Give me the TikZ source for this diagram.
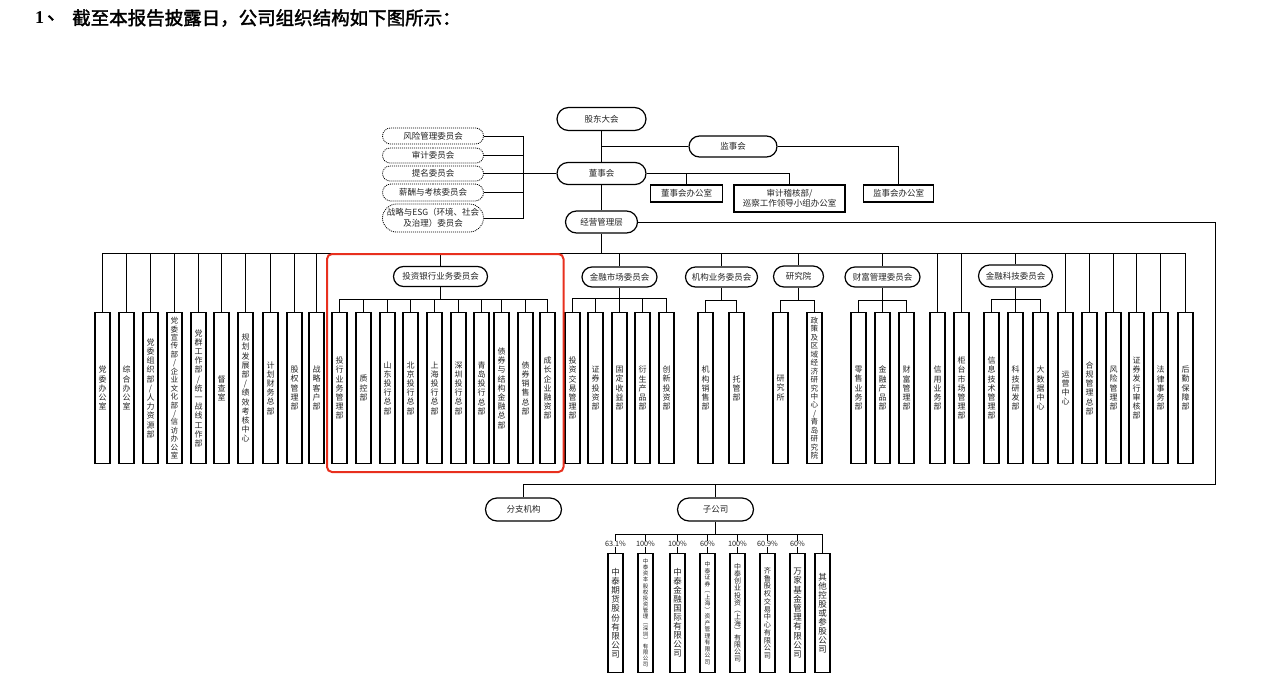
\documentclass[tikz,border=0pt]{standalone}
\usepackage{fontspec}
\usetikzlibrary{shapes.misc}
\newfontfamily\cjk{Noto Sans CJK SC}
\newfontfamily\cjkb[FakeBold=2]{Noto Sans CJK SC}
\newfontfamily\tnr{Liberation Serif}
\definecolor{redbox}{RGB}{232,48,30}
\definecolor{ink}{RGB}{35,35,35}
\ExplSyntaxOn
\seq_new:N \l_vt_chars_seq
\NewDocumentCommand \vt { m }
  {
    \seq_clear:N \l_vt_chars_seq
    \tl_map_inline:nn { #1 } { \seq_put_right:Nn \l_vt_chars_seq { ##1 } }
    \seq_use:Nn \l_vt_chars_seq { \\ }
  }
\ExplSyntaxOff
% name, x, bus coordinate, text
\newcommand\dept[5][]{\node[vbox,#1] (#2) at (#3,312) {\vt{#5}};
  \draw[conn] (#2.north) -- (#2.north |- #4);}
% name, x, pct, fontsize, skip, text
\newcommand\subco[6]{\node[sbox,font=\cjk\fontsize{#4}{#5}\selectfont] (#1) at (#2,553) {\vt{#6}};
  \draw[conn] (#1.north) -- (#1.north |- sbL);
  \node[pct] (#1p) at (#2,544) {#3};}
\begin{document}
\begin{tikzpicture}[x=1pt,y=-1pt,
  conn/.style={draw=black, line width=1pt},
  vbox/.style={draw=black, line width=1.3pt, minimum width=15pt, minimum height=151pt,
    inner sep=0pt, anchor=north, align=center, font=\cjk\fontsize{8}{9.2}\selectfont, text=ink},
  sbox/.style={vbox, minimum height=119pt},
  pill/.style={rounded rectangle, draw=black, line width=1.2pt, inner sep=0pt,
    minimum height=20pt, font=\cjk\fontsize{8.5}{10}\selectfont, text=ink},
  dpill/.style={pill, line width=0.8pt, dash pattern=on 1pt off 1pt, minimum width=101pt},
  obox/.style={draw=black, line width=1.2pt, inner sep=0pt, align=center,
    font=\cjk\fontsize{8.5}{10.5}\selectfont, text=ink},
  pct/.style={fill=white, inner sep=0.6pt, font=\cjk\fontsize{7.3}{8}\selectfont, text=ink},
  tight/.style={font=\cjk\fontsize{7.6}{8.45}\selectfont}
]
\useasboundingbox (0,0) rectangle (1280,675);

% title
\node[anchor=west, inner sep=0pt, font=\tnr\bfseries\fontsize{18}{20}\selectfont] (tnum) at (35,18) {1};
\node[anchor=west, inner sep=0pt, font=\cjkb\fontsize{18.5}{20}\selectfont] (tdot) at (47,18) {、};
\node[anchor=west, inner sep=0pt, font=\cjkb\fontsize{18.5}{20}\selectfont] (title) at (72,18) {截至本报告披露日，公司组织结构如下图所示：};

% top governance
\node[pill, minimum width=89pt, minimum height=23pt] (gd) at (601.5,119) {股东大会};
\node[pill, minimum width=88pt, minimum height=21pt] (js) at (733,146.5) {监事会};
\node[pill, minimum width=89pt, minimum height=22pt] (dsh) at (601.5,173.5) {董事会};
\node[pill, minimum width=72pt, minimum height=22pt] (jy) at (601.5,222) {经营管理层};
\node[obox, minimum width=72pt, minimum height=17pt] (dsbgs) at (686.5,193.5) {董事会办公室};
\node[obox, minimum width=111pt, minimum height=27pt] (sj) at (789.5,198.5) {审计稽核部/\\巡察工作领导小组办公室};
\node[obox, minimum width=70pt, minimum height=17pt] (jsbgs) at (898.5,193.5) {监事会办公室};

\draw[conn] (gd.south) -- (dsh.north);
\draw[conn] (js.west) -- (js.west -| gd.south);
\draw[conn] (js.east) -| (jsbgs.north);
\draw[conn] (dsh.east) -| (sj.north);
\draw[conn] (dsbgs.north) -- (dsbgs.north |- dsh.east);
\draw[conn] (dsh.south) -- (jy.north);

% board committees
\node[dpill, minimum height=16pt] (c1) at (433,136) {风险管理委员会};
\node[dpill, minimum height=15pt] (c2) at (433,155.5) {审计委员会};
\node[dpill, minimum height=15pt] (c3) at (433,173.5) {提名委员会};
\node[dpill, minimum height=17pt] (c4) at (433,192.5) {薪酬与考核委员会};
\node[dpill, minimum height=28pt, align=center, font=\cjk\fontsize{8.5}{10.5}\selectfont] (c5) at (433,218) {战略与ESG（环境、社会\\及治理）委员会};
\coordinate (cbT) at (523.5,136);
\coordinate (cbB) at (523.5,218);
\draw[conn] (cbT) -- (cbB);
\draw[conn] (c1.east) -- (c1.east -| cbT);
\draw[conn] (c2.east) -- (c2.east -| cbT);
\draw[conn] (c3.east) -- (dsh.west);
\draw[conn] (c4.east) -- (c4.east -| cbT);
\draw[conn] (c5.east) -- (c5.east -| cbT);

% main bus
\coordinate (mbL) at (102.5,253);
\coordinate (mbR) at (1185.5,253);
\draw[conn] (mbL) -- (mbR);
\draw[conn] (jy.south) -- (jy.south |- mbL);

% left departments
\dept{L1}{102.5}{mbL}{党委办公室}
\dept{L2}{126.5}{mbL}{综合办公室}
\dept{L3}{150.5}{mbL}{党委组织部/人力资源部}
\dept[tight]{L4}{174.5}{mbL}{党委宣传部/企业文化部/信访办公室}
\dept{L5}{198.5}{mbL}{党群工作部/统一战线工作部}
\dept{L6}{221.5}{mbL}{督查室}
\dept{L7}{245.5}{mbL}{规划发展部/绩效考核中心}
\dept{L8}{270.5}{mbL}{计划财务总部}
\dept{L9}{294.5}{mbL}{股权管理部}
\dept{L10}{316.5}{mbL}{战略客户部}

% investment banking committee
\node[pill, minimum width=94pt] (tyh) at (440.5,276.5) {投资银行业务委员会};
\draw[conn] (tyh.north) -- (tyh.north |- mbL);
\coordinate (tbL) at (339.5,299);
\coordinate (tbR) at (547.5,299);
\draw[conn] (tbL) -- (tbR);
\draw[conn] (tyh.south) -- (tyh.south |- tbL);
\dept{T1}{339.5}{tbL}{投行业务管理部}
\dept{T2}{363.5}{tbL}{质控部}
\dept{T3}{387.5}{tbL}{山东投行总部}
\dept{T4}{410.5}{tbL}{北京投行总部}
\dept{T5}{434.5}{tbL}{上海投行总部}
\dept{T6}{458.5}{tbL}{深圳投行总部}
\dept{T7}{481.5}{tbL}{青岛投行总部}
\dept{T8}{501.5}{tbL}{债券与结构金融总部}
\dept{T9}{525.5}{tbL}{债券销售总部}
\dept{T10}{547.5}{tbL}{成长企业融资部}

% financial markets committee
\node[pill, minimum width=75pt] (jr) at (619.5,277) {金融市场委员会};
\draw[conn] (jr.north) -- (jr.north |- mbL);
\coordinate (jbL) at (572.5,298);
\coordinate (jbR) at (666.5,298);
\draw[conn] (jbL) -- (jbR);
\draw[conn] (jr.south) -- (jr.south |- jbL);
\dept{J1}{572.5}{jbL}{投资交易管理部}
\dept{J2}{595.5}{jbL}{证券投资部}
\dept{J3}{619.5}{jbL}{固定收益部}
\dept{J4}{642.5}{jbL}{衍生产品部}
\dept{J5}{666.5}{jbL}{创新投资部}

% institutional business committee
\node[pill, minimum width=72pt] (jg) at (721.5,277) {机构业务委员会};
\draw[conn] (jg.north) -- (jg.north |- mbL);
\coordinate (gbL) at (705.5,300);
\coordinate (gbR) at (736.5,300);
\draw[conn] (gbL) -- (gbR);
\draw[conn] (jg.south) -- (jg.south |- gbL);
\dept{G1}{705.5}{gbL}{机构销售部}
\dept{G2}{736.5}{gbL}{托管部}

% research institute
\node[pill, minimum width=50pt, minimum height=21pt] (yjy) at (798.5,276.5) {研究院};
\draw[conn] (yjy.north) -- (yjy.north |- mbL);
\coordinate (ybL) at (780.5,300);
\coordinate (ybR) at (814.5,300);
\draw[conn] (ybL) -- (ybR);
\draw[conn] (yjy.south) -- (yjy.south |- ybL);
\dept{Y1}{780.5}{ybL}{研究所}
\dept[tight]{Y2}{814.5}{ybL}{政策及区域经济研究中心/青岛研究院}

% wealth management committee
\node[pill, minimum width=75pt] (cf) at (882.5,277) {财富管理委员会};
\draw[conn] (cf.north) -- (cf.north |- mbL);
\coordinate (fbL) at (858.5,300);
\coordinate (fbR) at (906.5,300);
\draw[conn] (fbL) -- (fbR);
\draw[conn] (cf.south) -- (cf.south |- fbL);
\dept{F1}{858.5}{fbL}{零售业务部}
\dept{F2}{882.5}{fbL}{金融产品部}
\dept{F3}{906.5}{fbL}{财富管理部}

\dept{R1}{937.5}{mbL}{信用业务部}
\dept{R2}{961.5}{mbL}{柜台市场管理部}

% fintech committee
\node[pill, minimum width=74pt, minimum height=22pt] (kj) at (1015.5,276) {金融科技委员会};
\draw[conn] (kj.north) -- (kj.north |- mbL);
\coordinate (kbL) at (991.5,299);
\coordinate (kbR) at (1040.5,299);
\draw[conn] (kbL) -- (kbR);
\draw[conn] (kj.south) -- (kj.south |- kbL);
\dept{K1}{991.5}{kbL}{信息技术管理部}
\dept{K2}{1015.5}{kbL}{科技研发部}
\dept{K3}{1040.5}{kbL}{大数据中心}

\dept{R3}{1065.5}{mbL}{运营中心}
\dept{R4}{1089.5}{mbL}{合规管理总部}
\dept{R5}{1113.5}{mbL}{风险管理部}
\dept{R6}{1136.5}{mbL}{证券发行审核部}
\dept{R7}{1160.5}{mbL}{法律事务部}
\dept{R8}{1185.5}{mbL}{后勤保障部}

% branches and subsidiaries
\node[pill, minimum width=76pt, minimum height=23pt] (fz) at (523.5,509.5) {分支机构};
\node[pill, minimum width=76pt, minimum height=23pt] (zgs) at (715.5,509.5) {子公司};
\coordinate (rt) at (1215.5,222);
\coordinate (rb) at (1215.5,484);
\draw[conn] (jy.east) -- (rt) -- (rb) -- (rb -| fz.north) -- (fz.north);
\draw[conn] (zgs.north) -- (zgs.north |- rb);

\coordinate (sbL) at (615.5,534);
\coordinate (sbR) at (822.5,534);
\draw[conn] (sbL) -- (sbR);
\draw[conn] (zgs.south) -- (zgs.south |- sbL);
\subco{S1}{615.5}{63.1\%}{8.5}{9.2}{中泰期货股份有限公司}
\subco{S2}{645.5}{100\%}{5.5}{6.05}{中泰资本股权投资管理︵深圳︶有限公司}
\subco{S3}{677.5}{100\%}{8.5}{9}{中泰金融国际有限公司}
\subco{S4}{707.5}{60\%}{5.8}{6.5}{中泰证券︵上海︶资产管理有限公司}
\subco{S5}{737.5}{100\%}{7}{7.1}{中泰创业投资︵上海︶有限公司}
\subco{S6}{767.5}{60.9\%}{7.2}{7.75}{齐鲁股权交易中心有限公司}
\subco{S7}{797.5}{60\%}{8.5}{9.2}{万家基金管理有限公司}
\node[sbox, font=\cjk\fontsize{8.5}{9}\selectfont] (S8) at (822.5,553) {\vt{其他控股或参股公司}};
\draw[conn] (S8.north) -- (S8.north |- sbL);

% highlight
\draw[redbox, line width=2pt, rounded corners=5pt] (327,254) rectangle (563.5,472);
\end{tikzpicture}
\end{document}
